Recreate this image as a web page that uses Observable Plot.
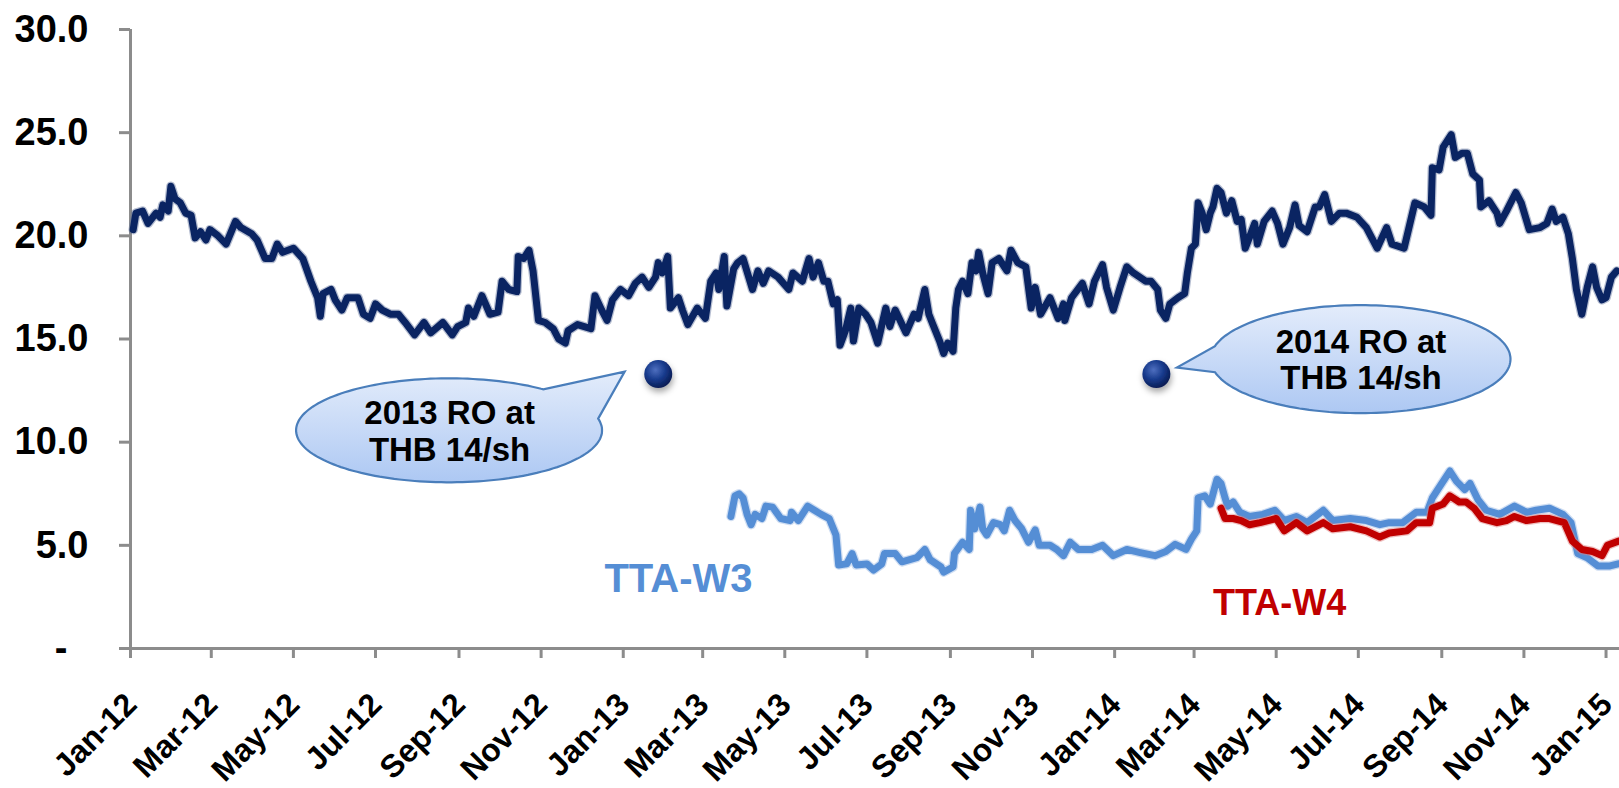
<!DOCTYPE html>
<html>
<head>
<meta charset="utf-8">
<script src="https://cdn.jsdelivr.net/npm/d3@7"></script>
<script src="https://cdn.jsdelivr.net/npm/@observablehq/plot@0.6"></script>
<style>
  html, body { margin: 0; padding: 0; background: #fff; }
  #chart svg { display: block; }
</style>
</head>
<body>
<div id="chart"></div>
<script>
// TTA share price (THB), daily closes sampled at turning points
const ttaPrice = [
  ["2012-01-03",20.3],["2012-01-05",21.1],["2012-01-10",21.2],["2012-01-14",20.6],["2012-01-20",21.1],["2012-01-23",20.9],["2012-01-25",21.5],["2012-01-29",21.2],["2012-01-31",22.4],
  ["2012-02-03",21.8],["2012-02-07",21.6],["2012-02-11",21.1],["2012-02-15",21.0],["2012-02-18",19.9],["2012-02-22",20.2],["2012-02-26",19.8],["2012-02-29",20.3],
  ["2012-03-06",20.0],["2012-03-12",19.6],["2012-03-19",20.7],["2012-03-23",20.4],["2012-03-31",20.1],
  ["2012-04-04",19.8],["2012-04-10",18.9],["2012-04-15",18.9],["2012-04-19",19.6],["2012-04-23",19.2],["2012-04-27",19.3],
  ["2012-05-01",19.4],["2012-05-08",18.9],["2012-05-14",17.8],["2012-05-19",17.0],["2012-05-21",16.1],["2012-05-23",17.2],["2012-05-29",17.4],
  ["2012-06-01",16.9],["2012-06-06",16.4],["2012-06-10",17.0],["2012-06-18",17.0],["2012-06-22",16.2],["2012-06-27",16.0],
  ["2012-07-01",16.7],["2012-07-06",16.4],["2012-07-12",16.2],["2012-07-18",16.2],["2012-07-23",15.8],["2012-07-30",15.2],
  ["2012-08-06",15.8],["2012-08-11",15.3],["2012-08-20",15.8],["2012-08-27",15.2],["2012-08-31",15.6],
  ["2012-09-06",15.8],["2012-09-08",16.5],["2012-09-12",16.1],["2012-09-18",17.1],["2012-09-24",16.2],["2012-09-30",16.3],
  ["2012-10-03",17.8],["2012-10-08",17.4],["2012-10-14",17.3],["2012-10-15",19.0],["2012-10-19",18.9],["2012-10-23",19.3],["2012-10-26",18.3],["2012-10-30",15.9],
  ["2012-11-04",15.8],["2012-11-10",15.5],["2012-11-14",15.0],["2012-11-19",14.8],["2012-11-21",15.4],["2012-11-28",15.7],
  ["2012-12-08",15.5],["2012-12-11",17.1],["2012-12-16",16.4],["2012-12-20",15.9],["2012-12-24",16.9],["2012-12-30",17.4],
  ["2013-01-05",17.1],["2013-01-10",17.7],["2013-01-15",18.0],["2013-01-20",17.5],["2013-01-25",18.0],["2013-01-27",18.7],["2013-01-30",18.2],
  ["2013-02-03",19.0],["2013-02-05",16.5],["2013-02-11",17.0],["2013-02-14",16.4],["2013-02-18",15.7],["2013-02-25",16.5],
  ["2013-03-03",16.0],["2013-03-07",17.8],["2013-03-11",18.2],["2013-03-13",17.4],["2013-03-17",19.0],["2013-03-19",16.6],["2013-03-24",18.4],["2013-03-27",18.7],["2013-03-31",18.9],
  ["2013-04-07",17.4],["2013-04-11",18.3],["2013-04-15",17.7],["2013-04-19",18.3],["2013-04-26",18.0],
  ["2013-05-04",17.4],["2013-05-07",18.2],["2013-05-14",17.8],["2013-05-19",18.9],["2013-05-22",18.0],["2013-05-26",18.7],["2013-05-30",17.8],
  ["2013-06-02",17.8],["2013-06-06",16.7],["2013-06-09",16.9],["2013-06-11",14.7],["2013-06-15",15.4],["2013-06-19",16.5],["2013-06-21",14.9],["2013-06-25",16.5],["2013-06-30",16.2],
  ["2013-07-04",15.8],["2013-07-09",14.8],["2013-07-15",16.5],["2013-07-18",15.6],["2013-07-22",16.4],["2013-07-30",15.3],
  ["2013-08-05",16.2],["2013-08-08",16.0],["2013-08-13",17.4],["2013-08-16",16.2],["2013-08-19",15.7],["2013-08-24",14.9],["2013-08-27",14.3],["2013-08-30",14.8],
  ["2013-09-03",14.4],["2013-09-05",16.5],["2013-09-07",17.4],["2013-09-10",17.8],["2013-09-14",17.2],["2013-09-17",18.7],["2013-09-20",18.3],["2013-09-22",19.2],["2013-09-25",18.2],["2013-09-29",17.2],
  ["2013-10-02",18.7],["2013-10-07",18.9],["2013-10-13",18.3],["2013-10-16",19.3],["2013-10-21",18.7],["2013-10-27",18.5],["2013-10-31",16.5],
  ["2013-11-03",17.5],["2013-11-07",16.2],["2013-11-14",17.0],["2013-11-20",16.0],["2013-11-24",16.7],["2013-11-25",15.9],["2013-11-30",17.0],
  ["2013-12-08",17.7],["2013-12-13",16.7],["2013-12-17",17.8],["2013-12-23",18.6],["2013-12-26",17.5],["2013-12-31",16.4],
  ["2014-01-05",17.5],["2014-01-10",18.5],["2014-01-15",18.2],["2014-01-24",17.8],["2014-01-28",17.8],
  ["2014-02-02",17.4],["2014-02-04",16.4],["2014-02-08",16.0],["2014-02-11",16.7],["2014-02-17",17.0],["2014-02-22",17.2],["2014-02-24",18.2],["2014-02-27",19.4],
  ["2014-03-02",19.6],["2014-03-04",21.6],["2014-03-07",21.1],["2014-03-10",20.3],["2014-03-13",21.1],["2014-03-15",21.4],["2014-03-18",22.3],["2014-03-21",22.1],["2014-03-25",21.1],["2014-03-29",21.7],
  ["2014-04-02",20.7],["2014-04-05",20.8],["2014-04-08",19.4],["2014-04-11",19.9],["2014-04-15",20.6],["2014-04-17",19.6],["2014-04-22",20.7],["2014-04-28",21.2],
  ["2014-05-02",20.6],["2014-05-06",19.6],["2014-05-11",20.4],["2014-05-15",21.5],["2014-05-18",20.5],["2014-05-24",20.2],["2014-05-30",21.4],
  ["2014-06-02",21.4],["2014-06-06",22.0],["2014-06-11",20.7],["2014-06-17",21.1],["2014-06-22",21.1],["2014-06-30",20.9],
  ["2014-07-07",20.4],["2014-07-15",19.4],["2014-07-22",20.4],["2014-07-26",19.6],
  ["2014-08-04",19.4],["2014-08-12",21.6],["2014-08-19",21.4],["2014-08-24",21.0],["2014-08-25",23.3],["2014-08-30",23.2],
  ["2014-09-02",24.3],["2014-09-08",24.9],["2014-09-11",23.8],["2014-09-16",24.0],["2014-09-20",24.0],["2014-09-24",23.0],["2014-09-29",22.7],["2014-09-30",21.4],
  ["2014-10-06",21.7],["2014-10-12",21.1],["2014-10-14",20.6],["2014-10-19",21.2],["2014-10-26",22.1],["2014-10-30",21.6],
  ["2014-11-05",20.3],["2014-11-13",20.4],["2014-11-18",20.6],["2014-11-22",21.3],["2014-11-25",20.7],["2014-11-30",20.9],
  ["2014-12-04",20.1],["2014-12-07",18.9],["2014-12-10",17.4],["2014-12-14",16.2],["2014-12-18",17.5],["2014-12-22",18.5],["2014-12-25",17.5],["2014-12-29",16.9],
  ["2015-01-01",17.0],["2015-01-05",18.0],["2015-01-09",18.3]
];

// TTA-W3 warrant price (THB)
const w3Price = [
  ["2013-03-22",6.4],["2013-03-25",7.4],["2013-03-28",7.5],["2013-03-31",7.3],
  ["2013-04-03",6.5],["2013-04-06",6.0],["2013-04-09",6.5],["2013-04-14",6.3],["2013-04-17",6.9],["2013-04-22",6.85],["2013-04-28",6.3],
  ["2013-05-05",6.2],["2013-05-06",6.6],["2013-05-11",6.2],["2013-05-18",6.9],["2013-05-23",6.7],["2013-05-28",6.5],
  ["2013-06-03",6.3],["2013-06-08",5.5],["2013-06-10",4.05],["2013-06-16",4.1],["2013-06-20",4.6],["2013-06-23",4.05],
  ["2013-07-01",4.1],["2013-07-06",3.8],["2013-07-12",4.1],["2013-07-14",4.6],["2013-07-22",4.6],["2013-07-27",4.2],
  ["2013-08-07",4.4],["2013-08-13",4.8],["2013-08-17",4.3],["2013-08-25",3.95],["2013-08-27",3.7],
  ["2013-09-03",3.95],["2013-09-04",4.6],["2013-09-10",5.15],["2013-09-15",4.8],["2013-09-16",6.7],["2013-09-19",5.8],["2013-09-23",6.85],["2013-09-25",5.8],["2013-09-28",5.5],
  ["2013-10-03",6.1],["2013-10-08",6.0],["2013-10-11",5.7],["2013-10-15",6.7],["2013-10-19",6.2],["2013-10-24",5.8],["2013-10-29",5.15],
  ["2013-11-03",5.75],["2013-11-06",5.0],["2013-11-14",5.0],["2013-11-19",4.8],["2013-11-24",4.5],["2013-11-29",5.15],
  ["2013-12-05",4.8],["2013-12-15",4.8],["2013-12-23",5.0],["2013-12-31",4.5],
  ["2014-01-10",4.8],["2014-01-20",4.65],["2014-01-31",4.5],
  ["2014-02-08",4.7],["2014-02-15",5.05],["2014-02-23",4.8],["2014-02-27",5.3],
  ["2014-03-03",5.7],["2014-03-04",7.3],["2014-03-09",7.4],["2014-03-13",7.0],["2014-03-18",8.2],["2014-03-21",8.0],["2014-03-24",7.3],["2014-03-26",6.9],["2014-03-30",7.1],
  ["2014-04-04",6.6],["2014-04-11",6.4],["2014-04-21",6.5],["2014-04-30",6.7],
  ["2014-05-07",6.2],["2014-05-16",6.4],["2014-05-24",6.1],
  ["2014-06-05",6.7],["2014-06-12",6.2],["2014-06-25",6.3],
  ["2014-07-07",6.2],["2014-07-17",6.0],["2014-07-24",6.1],
  ["2014-08-03",6.1],["2014-08-13",6.6],["2014-08-21",6.6],["2014-08-25",7.3],
  ["2014-09-01",8.0],["2014-09-07",8.6],["2014-09-12",8.1],["2014-09-18",7.7],["2014-09-22",8.0],["2014-09-28",7.2],
  ["2014-10-04",6.7],["2014-10-14",6.5],["2014-10-25",6.9],
  ["2014-11-03",6.6],["2014-11-10",6.7],["2014-11-20",6.8],["2014-11-30",6.5],
  ["2014-12-06",6.1],["2014-12-11",4.6],["2014-12-18",4.4],["2014-12-26",4.0],
  ["2015-01-04",4.0],["2015-01-10",4.1]
];

// TTA-W4 warrant price (THB)
const w4Price = [
  ["2014-03-21",6.8],["2014-03-24",6.3],["2014-03-30",6.3],
  ["2014-04-05",6.2],["2014-04-11",6.0],["2014-04-19",6.1],
  ["2014-05-01",6.3],["2014-05-07",5.7],["2014-05-16",6.1],["2014-05-24",5.7],
  ["2014-06-05",6.1],["2014-06-12",5.8],["2014-06-25",5.9],
  ["2014-07-07",5.7],["2014-07-17",5.4],["2014-07-24",5.6],
  ["2014-08-06",5.7],["2014-08-13",6.1],["2014-08-23",6.1],["2014-08-25",6.8],
  ["2014-09-02",7.0],["2014-09-07",7.4],["2014-09-14",7.1],["2014-09-19",7.1],["2014-09-25",6.8],
  ["2014-10-01",6.3],["2014-10-12",6.1],["2014-10-19",6.2],["2014-10-25",6.4],
  ["2014-11-03",6.2],["2014-11-13",6.3],["2014-11-20",6.3],
  ["2014-12-01",6.1],["2014-12-07",5.2],["2014-12-14",4.8],["2014-12-22",4.7],["2014-12-29",4.5],
  ["2015-01-02",5.0],["2015-01-10",5.2]
];

// Rights offerings marked on the chart
const roEvents = [
  { date: "2013-01-27", level: 13.3, label: "2013 RO at\nTHB 14/sh" },
  { date: "2014-02-01", level: 13.3, label: "2014 RO at\nTHB 14/sh" }
];

const yTicks = [0, 5, 10, 15, 20, 25, 30];
const xDomain = ["2012-01-01", "2015-01-11"];

// ---------------------------------------------------------------------------
const parse = d3.utcParse("%Y-%m-%d");
const rows = (arr) => arr.map(([d, v]) => ({ date: parse(d), value: v }));
const tta = rows(ttaPrice), w3 = rows(w3Price), w4 = rows(w4Price);
const ro = roEvents.map(e => ({ ...e, date: parse(e.date) }));
const domain = xDomain.map(parse);
const xTicks = d3.utcMonth.every(2).range(domain[0], parse("2015-01-02"));
const monthFmt = d3.utcFormat("%b-%y");

const FONT = "'Liberation Sans', Arial, Helvetica, sans-serif";
const AXIS = "#8c8c8c";
const NAVY = "#0a2462";
const W3C = "#558ed5";
const W4C = "#c00000";

// Speech-bubble layout, anchored in data space (centre) with pixel radii
const bubbles = [
  { date: "2012-08-25", value: 10.55, rx: 153, ry: 52, gap: [-52, -13], tip: [-33, -2] },
  { date: "2014-07-03", value: 14.0,  rx: 150, ry: 54, gap: [166, 194], tip: [21, -6] }
].map((b, i) => ({ ...b, date: parse(b.date), text: roEvents[i].label, ro: ro[i] }));

function bubbleShapes(index, scales) {
  const g = d3.create("svg:g");
  for (const b of bubbles) {
    const cx = scales.x(b.date), cy = scales.y(b.value);
    const tx = scales.x(b.ro.date) + b.tip[0], ty = scales.y(b.ro.level) + b.tip[1];
    const pts = [];
    const a0 = b.gap[1], a1 = b.gap[0] + 360;
    for (let a = a0; a < a1; a += 2) pts.push(a);
    pts.push(a1);
    const xy = pts.map(a => {
      const r = a * Math.PI / 180;
      return [cx + b.rx * Math.cos(r), cy + b.ry * Math.sin(r)];
    });
    xy.push([tx, ty]);
    g.append("path")
      .attr("d", "M" + xy.map(p => p[0].toFixed(1) + "," + p[1].toFixed(1)).join("L") + "Z")
      .attr("fill", "url(#bubbleFill)")
      .attr("stroke", "#4a7ebb")
      .attr("stroke-width", 2.2)
      .attr("stroke-linejoin", "miter");
  }
  return g.node();
}

const chart = Plot.plot({
  width: 1619,
  height: 788,
  marginLeft: 130,
  marginRight: 0,
  marginTop: 29,
  marginBottom: 140,
  style: { fontFamily: FONT, background: "#fff", overflow: "visible" },
  x: { type: "utc", domain },
  y: { domain: [0, 30] },
  marks: [
    Plot.ruleX([domain[0]], { stroke: AXIS, strokeWidth: 3 }),
    Plot.ruleY([0], { stroke: AXIS, strokeWidth: 3 }),
    Plot.axisY({
      ticks: yTicks, tickSize: 11, tickPadding: 31, label: null,
      tickFormat: d => d === 0 ? "-\u2007" : d.toFixed(1),
      fontSize: 38, fontWeight: "bold", stroke: AXIS, strokeWidth: 3, fill: "#000"
    }),
    Plot.axisX({
      ticks: xTicks, tickSize: 10, label: null, tickFormat: () => "",
      stroke: AXIS, strokeWidth: 3
    }),
    Plot.text(xTicks, {
      x: d => d, frameAnchor: "bottom", text: d => monthFmt(d),
      rotate: -45, textAnchor: "end", lineAnchor: "bottom",
      dx: 8, dy: 58, fontSize: 32, fontWeight: "bold", fill: "#000"
    }),
    // soft halo under each series, then the series itself
    Plot.line(tta, { x: "date", y: "value", stroke: "#5d6f9a", strokeWidth: 9.5, strokeOpacity: 0.45 }),
    Plot.line(tta, { x: "date", y: "value", stroke: NAVY, strokeWidth: 7 }),
    Plot.line(w3, { x: "date", y: "value", stroke: "#9dbbe6", strokeWidth: 9.5, strokeOpacity: 0.5 }),
    Plot.line(w3, { x: "date", y: "value", stroke: W3C, strokeWidth: 7 }),
    Plot.line(w4, { x: "date", y: "value", stroke: "#e08080", strokeWidth: 9.5, strokeOpacity: 0.5 }),
    Plot.line(w4, { x: "date", y: "value", stroke: W4C, strokeWidth: 7 }),
    bubbleShapes,
    Plot.text(bubbles, {
      x: "date", y: "value", text: "text", lineAnchor: "middle", lineHeight: 1.1,
      fontSize: 33, fontWeight: "bold", fill: "#000"
    }),
    Plot.dot(ro, { x: "date", y: "level", r: 14, fill: "url(#ballFill)", stroke: null }),
    Plot.text([{ date: parse("2012-12-18"), value: 2.75, name: "TTA-W3" }], {
      x: "date", y: "value", text: "name", textAnchor: "start", lineAnchor: "bottom",
      fontSize: 40, fontWeight: "bold", fill: W3C
    }),
    Plot.text([{ date: parse("2014-03-15"), value: 1.6, name: "TTA-W4" }], {
      x: "date", y: "value", text: "name", textAnchor: "start", lineAnchor: "bottom",
      fontSize: 36, fontWeight: "bold", fill: W4C
    })
  ]
});

// gradients and shadow used by the bubbles and the RO markers
const defs = d3.select(chart).insert("defs", ":first-child");
const bf = defs.append("linearGradient").attr("id", "bubbleFill")
  .attr("x1", 0).attr("y1", 0).attr("x2", 0).attr("y2", 1);
bf.append("stop").attr("offset", "0%").attr("stop-color", "#e3ecfb");
bf.append("stop").attr("offset", "100%").attr("stop-color", "#adc8f3");
const ball = defs.append("radialGradient").attr("id", "ballFill")
  .attr("cx", "40%").attr("cy", "35%").attr("r", "65%");
ball.append("stop").attr("offset", "0%").attr("stop-color", "#4e6fbf");
ball.append("stop").attr("offset", "55%").attr("stop-color", "#173a8c");
ball.append("stop").attr("offset", "100%").attr("stop-color", "#0a1d55");
const sh = defs.append("filter").attr("id", "ballShadow")
  .attr("x", "-50%").attr("y", "-50%").attr("width", "200%").attr("height", "200%");
sh.append("feDropShadow").attr("dx", 1).attr("dy", 4).attr("stdDeviation", 3)
  .attr("flood-color", "#000").attr("flood-opacity", 0.35);
d3.select(chart).selectAll("g[aria-label=dot] circle").attr("filter", "url(#ballShadow)");

document.getElementById("chart").appendChild(chart);
</script>
</body>
</html>
